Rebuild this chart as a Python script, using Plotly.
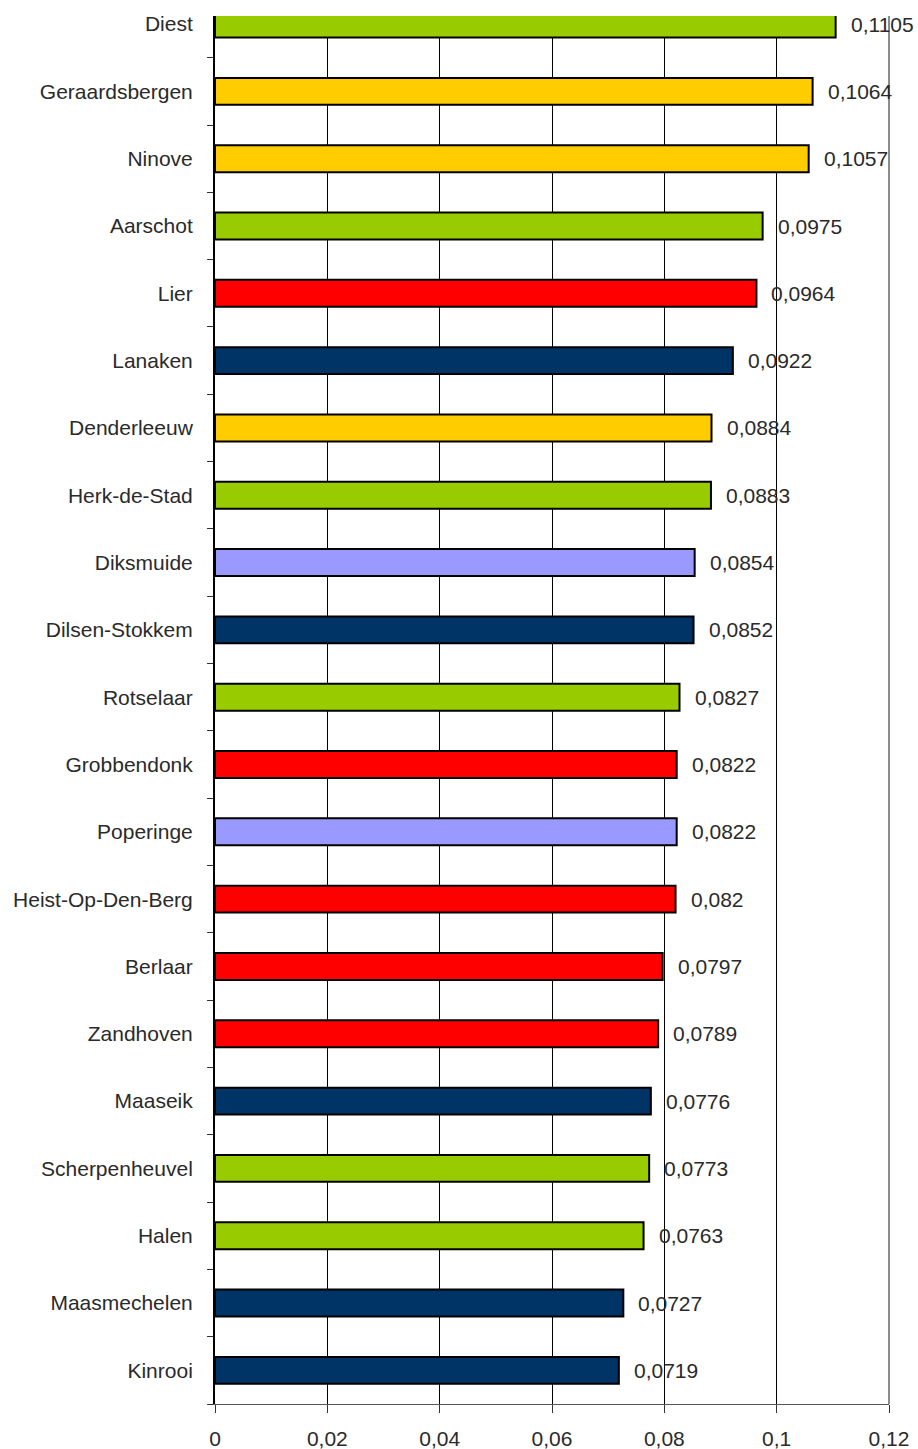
import plotly.graph_objects as go

categories = ["Diest", "Geraardsbergen", "Ninove", "Aarschot", "Lier", "Lanaken",
              "Denderleeuw", "Herk-de-Stad", "Diksmuide", "Dilsen-Stokkem", "Rotselaar",
              "Grobbendonk", "Poperinge", "Heist-Op-Den-Berg", "Berlaar", "Zandhoven",
              "Maaseik", "Scherpenheuvel", "Halen", "Maasmechelen", "Kinrooi"]
values = [0.1105, 0.1064, 0.1057, 0.0975, 0.0964, 0.0922, 0.0884, 0.0883, 0.0854,
          0.0852, 0.0827, 0.0822, 0.0822, 0.082, 0.0797, 0.0789, 0.0776, 0.0773,
          0.0763, 0.0727, 0.0719]
groups = ["green", "yellow", "yellow", "green", "red", "navy", "yellow", "green",
          "lavender", "navy", "green", "red", "lavender", "red", "red", "red",
          "navy", "green", "green", "navy", "navy"]
x_ticks = [0, 0.02, 0.04, 0.06, 0.08, 0.1, 0.12]
x_tick_labels = ["0", "0,02", "0,04", "0,06", "0,08", "0,1", "0,12"]

palette = {"green": "#99CC00", "yellow": "#FFCC00", "red": "#FF0000",
           "navy": "#003366", "lavender": "#9999FF"}

FONT = "Liberation Sans, Arial, sans-serif"
TXT = "#2a2a2a"
FS = 21

fig = go.Figure()
fig.add_trace(go.Bar(
    x=values, y=categories, orientation="h", width=0.4,
    marker=dict(color=[palette[g] for g in groups], line=dict(color="black", width=2)),
    hoverinfo="x+y", showlegend=False,
))

for c, v in zip(categories, values):
    fig.add_annotation(x=v, y=c, xref="x", yref="y", text=str(v).replace(".", ","),
                       showarrow=False, xanchor="left", yanchor="middle", xshift=13,
                       font=dict(family=FONT, size=FS, color=TXT))

fig.add_shape(type="line", xref="paper", yref="paper", x0=1, x1=1, y0=0, y1=1,
              line=dict(color="#8c8c8c", width=2))

fig.update_layout(
    width=918, height=1449,
    margin=dict(l=215, r=29, t=16, b=45),
    paper_bgcolor="white", plot_bgcolor="white",
    separators=",.",
    font=dict(family=FONT, size=FS, color=TXT),
    bargap=0.6,
)
fig.update_xaxes(
    range=[0, 0.12], tickvals=x_ticks, ticktext=x_tick_labels,
    showgrid=True, gridcolor="#000000", gridwidth=1,
    zeroline=False, showline=True, linecolor="#555555", linewidth=1,
    ticks="outside", ticklen=8, tickcolor="#333333", ticklabelstandoff=8,
    tickfont=dict(family=FONT, size=FS, color=TXT), automargin=False,
)
fig.update_yaxes(
    type="category", categoryorder="array", categoryarray=categories[::-1],
    range=[-0.5, 20.12], showgrid=False, zeroline=False,
    showline=True, linecolor="black", linewidth=2,
    ticks="outside", ticklen=6, tickcolor="#333333", tickson="boundaries",
    ticklabelstandoff=16, automargin=False,
    tickfont=dict(family=FONT, size=FS, color=TXT),
)

fig.write_html("out.html")
